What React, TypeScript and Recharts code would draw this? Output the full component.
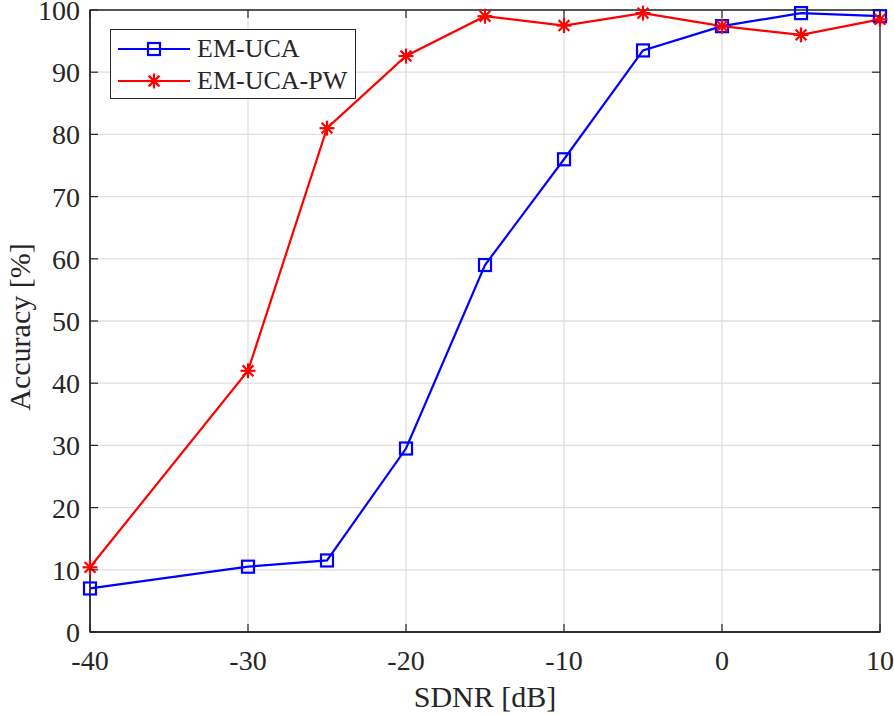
import { LineChart, Line, XAxis, YAxis, CartesianGrid, Legend, ReferenceArea } from "recharts";

const SDNR = [-40, -30, -25, -20, -15, -10, -5, 0, 5, 10];
const EM_UCA = [7, 10.5, 11.5, 29.5, 59, 76, 93.5, 97.4, 99.5, 99];
const EM_UCA_PW = [10.4, 42, 81, 92.6, 99, 97.5, 99.5, 97.4, 96, 98.5];
const X_TICKS = [-40, -30, -20, -10, 0, 10];
const Y_TICKS = [0, 10, 20, 30, 40, 50, 60, 70, 80, 90, 100];

const data = SDNR.map((x, i) => ({ x, uca: EM_UCA[i], pw: EM_UCA_PW[i] }));

const W = 894;
const H = 715;
const PLOT_W = 790;
const PLOT_H = 622;
const INK = "#262626";
const FONT = "Liberation Serif, serif";
const X_MARGIN = 18;
const Y_MARGIN = 10;
const TICK_LEN = 8;

function Square({ cx, cy, color }: any) {
  if (cx == null || cy == null) return null;
  return <rect x={cx - 6} y={cy - 6} width={12} height={12} fill="none" stroke={color} strokeWidth={2.2} />;
}

function Star({ cx, cy, color }: any) {
  if (cx == null || cy == null) return null;
  const r = 7.5;
  const d = r * 0.72;
  return (
    <g stroke={color} strokeWidth={2.2}>
      <line x1={cx - r} y1={cy} x2={cx + r} y2={cy} />
      <line x1={cx} y1={cy - r} x2={cx} y2={cy + r} />
      <line x1={cx - d} y1={cy - d} x2={cx + d} y2={cy + d} />
      <line x1={cx - d} y1={cy + d} x2={cx + d} y2={cy - d} />
    </g>
  );
}

const textStyle = { fontFamily: FONT, fill: INK };

function XTick({ x, y, payload }: any) {
  const axisY = y - X_MARGIN;
  return (
    <g>
      <line x1={x} y1={axisY} x2={x} y2={axisY - TICK_LEN} stroke={INK} strokeWidth={1.2} />
      <line x1={x} y1={axisY - PLOT_H} x2={x} y2={axisY - PLOT_H + TICK_LEN} stroke={INK} strokeWidth={1.2} />
      <text x={x} y={y} dy="0.71em" textAnchor="middle" fontSize={28} style={textStyle}>
        {payload.value}
      </text>
    </g>
  );
}

function YTick({ x, y, payload }: any) {
  const axisX = x + Y_MARGIN;
  return (
    <g>
      <line x1={axisX} y1={y} x2={axisX + TICK_LEN} y2={y} stroke={INK} strokeWidth={1.2} />
      <line x1={axisX + PLOT_W} y1={y} x2={axisX + PLOT_W - TICK_LEN} y2={y} stroke={INK} strokeWidth={1.2} />
      <text x={x} y={y} dy="0.355em" textAnchor="end" fontSize={28} style={textStyle}>
        {payload.value}
      </text>
    </g>
  );
}

function YLabel({ viewBox }: any) {
  const cx = 19;
  const cy = viewBox.y + viewBox.height / 2 + 6;
  return (
    <text x={cx} y={cy} transform={`rotate(-90 ${cx} ${cy})`} textAnchor="middle" dominantBaseline="central" fontSize={30} style={textStyle}>
      Accuracy [%]
    </text>
  );
}

function XLabel({ viewBox }: any) {
  const cx = viewBox.x + viewBox.width / 2;
  return (
    <text x={cx} y={707} textAnchor="middle" fontSize={30} style={textStyle}>
      SDNR [dB]
    </text>
  );
}

function LegendBox() {
  const rows = [
    { name: "EM-UCA", color: "#0000ff", Mark: Square },
    { name: "EM-UCA-PW", color: "#ff0000", Mark: Star },
  ];
  return (
    <div style={{ width: 246, height: 70, border: `1px solid ${INK}`, background: "#fff", boxSizing: "border-box" }}>
      {rows.map((r, i) => (
        <div key={r.name} style={{ display: "flex", alignItems: "center", height: 32, marginTop: i === 0 ? 3 : 0 }}>
          <svg width={86} height={32}>
            <line x1={7} y1={16} x2={79} y2={16} stroke={r.color} strokeWidth={2.2} />
            <r.Mark cx={43} cy={16} color={r.color} />
          </svg>
          <span style={{ fontFamily: FONT, fontSize: 26, color: INK, lineHeight: "32px" }}>{r.name}</span>
        </div>
      ))}
    </div>
  );
}

export default function App() {
  return (
    <div style={{ position: "absolute", left: 0, top: 0, width: W, height: H, background: "#fff", fontFamily: FONT }}>
      <LineChart width={W} height={H} data={data} margin={{ top: 10, right: 14, left: 0, bottom: 0 }}>
        <CartesianGrid stroke="#dfdfdf" strokeWidth={1.3} horizontalValues={Y_TICKS} verticalValues={X_TICKS} />
        <XAxis
          dataKey="x"
          type="number"
          domain={[-40, 10]}
          ticks={X_TICKS}
          height={83}
          tickSize={0}
          tickMargin={X_MARGIN}
          tickLine={false}
          axisLine={{ stroke: INK, strokeWidth: 1.3 }}
          tick={<XTick />}
          interval={0}
          label={<XLabel />}
        />
        <YAxis
          type="number"
          domain={[0, 100]}
          ticks={Y_TICKS}
          width={90}
          tickSize={0}
          tickMargin={Y_MARGIN}
          tickLine={false}
          axisLine={{ stroke: INK, strokeWidth: 1.3 }}
          tick={<YTick />}
          interval={0}
          label={<YLabel />}
        />
        <ReferenceArea x1={-40} x2={10} y1={0} y2={100} fill="none" stroke={INK} strokeWidth={1.3} ifOverflow="visible" />
        <Line
          type="linear"
          dataKey="uca"
          name="EM-UCA"
          stroke="#0000ff"
          strokeWidth={2.2}
          dot={<Square color="#0000ff" />}
          isAnimationActive={false}
        />
        <Line
          type="linear"
          dataKey="pw"
          name="EM-UCA-PW"
          stroke="#ff0000"
          strokeWidth={2.2}
          dot={<Star color="#ff0000" />}
          isAnimationActive={false}
        />
        <Legend
          layout="horizontal"
          verticalAlign="middle"
          align="center"
          wrapperStyle={{ left: 110, top: 29, width: 246 }}
          content={() => <LegendBox />}
        />
      </LineChart>
    </div>
  );
}
